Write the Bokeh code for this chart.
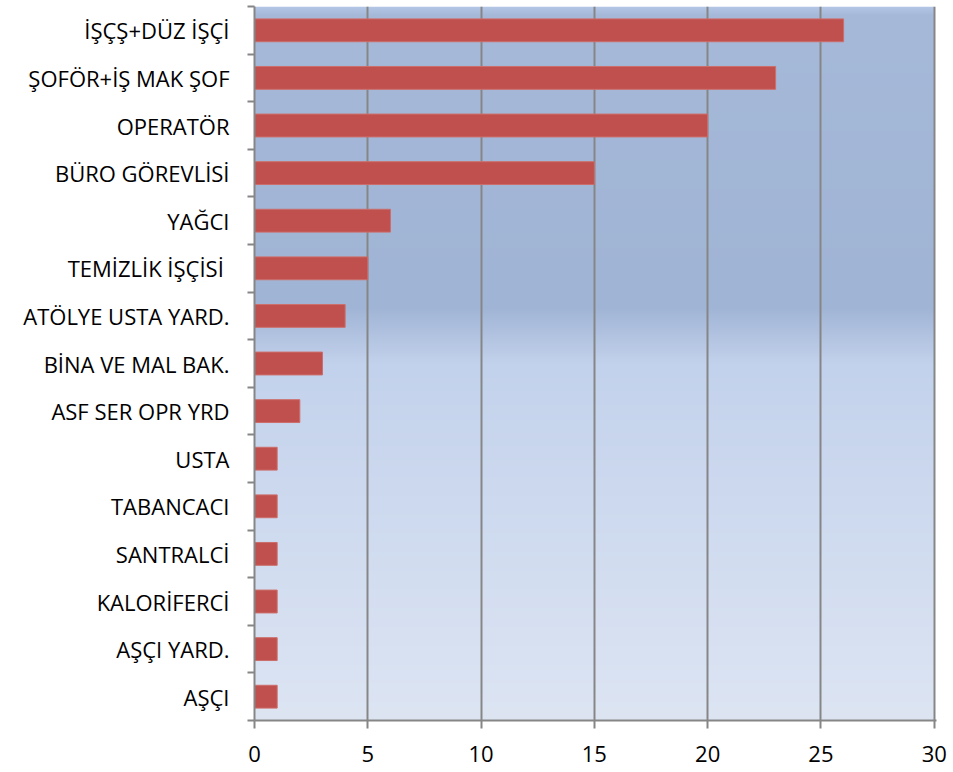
import numpy as np
from bokeh.plotting import figure
from bokeh.models import FixedTicker, Range1d
from bokeh.embed import file_html
from bokeh.resources import INLINE

# ---- data ----
categories = ["İŞÇŞ+DÜZ İŞÇİ", "ŞOFÖR+İŞ MAK ŞOF", "OPERATÖR", "BÜRO GÖREVLİSİ",
              "YAĞCI", "TEMİZLİK İŞÇİSİ ", "ATÖLYE USTA YARD.", "BİNA VE MAL BAK.",
              "ASF SER OPR YRD", "USTA", "TABANCACI", "SANTRALCİ", "KALORİFERCİ",
              "AŞÇI YARD.", "AŞÇI"]
values = [26, 23, 20, 15, 6, 5, 4, 3, 2, 1, 1, 1, 1, 1, 1]
x_ticks = [0, 5, 10, 15, 20, 25, 30]

n = len(categories)
ypos = [n - 1 - i + 0.5 for i in range(n)]
xmax = x_ticks[-1]

AXIS = "#868686"
FONT = "Open Sans"

p = figure(width=950, height=772, output_backend="svg", toolbar_location=None,
           x_range=Range1d(0, xmax + 0.1), y_range=Range1d(0, n),
           min_border_left=254, min_border_right=14, min_border_top=6,
           min_border_bottom=52)
p.outline_line_color = None
p.background_fill_color = "white"

# ---- gradient background of the plot area (decoration) ----
H = 714
stops_t = [0.0, 0.012, 0.42, 0.50, 1.0]
stops_c = [(0xB4, 0xC7, 0xE7), (0xA6, 0xB9, 0xD9), (0xA0, 0xB4, 0xD5),
           (0xC3, 0xD2, 0xEC), (0xDD, 0xE5, 0xF3)]
t = 1.0 - (np.arange(H) + 0.5) / H  # row 0 = bottom
rgba = np.zeros((H, 1, 4), dtype=np.uint8)
for k in range(3):
    rgba[:, 0, k] = np.interp(t, stops_t, [c[k] for c in stops_c]).astype(np.uint8)
rgba[:, :, 3] = 255
img = rgba.view(dtype=np.uint32).reshape(H, 1)
p.image_rgba(image=[img], x=0, y=0, dw=xmax, dh=n, level="image")

# ---- bars ----
p.hbar(y=ypos, right=values, left=0, height=0.48,
       fill_color="#C0504D", line_color="#CC6E6B", line_width=1)

# ---- grid ----
p.ygrid.grid_line_color = None
p.xgrid.ticker = FixedTicker(ticks=x_ticks)
p.xgrid.grid_line_color = AXIS
p.xgrid.grid_line_width = 2

# ---- x axis ----
xa = p.xaxis[0]
xa.ticker = FixedTicker(ticks=x_ticks)
xa.axis_line_color = AXIS
xa.axis_line_width = 2
xa.major_tick_line_color = AXIS
xa.major_tick_line_width = 2
xa.major_tick_out = 8
xa.major_tick_in = 0
xa.minor_tick_line_color = None
xa.major_label_text_font = FONT
xa.major_label_text_font_size = "22px"
xa.major_label_text_color = "black"
xa.major_label_standoff = 17

# ---- y axis ----
ya = p.yaxis[0]
ya.ticker = FixedTicker(ticks=ypos, minor_ticks=list(range(n + 1)))
ya.major_label_overrides = {y: c for y, c in zip(ypos, categories)}
ya.axis_line_color = AXIS
ya.axis_line_width = 2
ya.major_tick_line_color = None
ya.major_tick_out = 0
ya.major_tick_in = 0
ya.minor_tick_line_color = AXIS
ya.minor_tick_line_width = 2
ya.minor_tick_out = 7
ya.minor_tick_in = 0
ya.major_label_text_font = FONT
ya.major_label_text_font_size = "22px"
ya.major_label_text_color = "black"
ya.major_label_standoff = 18

open("out.html", "w").write(file_html(p, INLINE))
